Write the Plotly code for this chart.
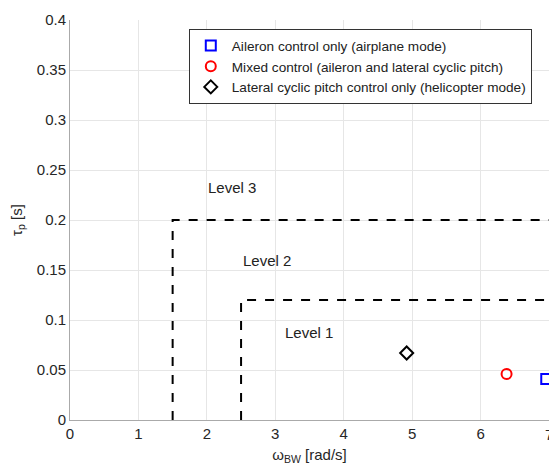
import plotly.graph_objects as go

# Data
series_names = ["Aileron control only (airplane mode)",
                "Mixed control (aileron and lateral cyclic pitch)",
                "Lateral cyclic pitch control only (helicopter mode)"]
omega_bw = [6.96, 6.38, 4.92]
tau_p = [0.041, 0.046, 0.067]
colors = ["#0000FF", "#FF0000", "#000000"]
symbols = ["square-open", "circle-open", "diamond-open"]

level3_x = [1.5, 1.5, 7.0]
level3_y = [0.0, 0.2, 0.2]
level2_x = [2.5, 2.5, 7.0]
level2_y = [0.0, 0.12, 0.12]

level_labels = ["Level 3", "Level 2", "Level 1"]
level_label_x = [2.365, 2.876, 3.49]
level_label_y = [0.233, 0.160, 0.0877]

x_ticks = [0, 1, 2, 3, 4, 5, 6, 7]
y_ticks = [0, 0.05, 0.1, 0.15, 0.2, 0.25, 0.3, 0.35, 0.4]
y_tick_text = ["0", "0.05", "0.1", "0.15", "0.2", "0.25", "0.3", "0.35", "0.4"]

fig = go.Figure()
fig.add_trace(go.Scatter(x=level3_x, y=level3_y, mode="lines",
                         line=dict(color="black", dash="dash", width=2), showlegend=False))
fig.add_trace(go.Scatter(x=level2_x, y=level2_y, mode="lines",
                         line=dict(color="black", dash="dash", width=2), showlegend=False))
for i in range(3):
    fig.add_trace(go.Scatter(x=[omega_bw[i]], y=[tau_p[i]], mode="markers", name=series_names[i],
                             marker=dict(symbol=symbols[i], size=10, color=colors[i],
                                         line=dict(width=2, color=colors[i]))))
for t, x, y in zip(level_labels, level_label_x, level_label_y):
    fig.add_annotation(x=x, y=y, text=t, showarrow=False,
                       font=dict(size=15, color="#222222"))

# last x tick label, cut by the page edge as in the reference
fig.add_annotation(x=x_ticks[-1], y=0, xref="x", yref="paper", yanchor="top", yshift=-4,
                   text=str(x_ticks[-1]), showarrow=False, font=dict(size=15, color="#262626"))

fig.update_layout(
    width=549, height=470,
    margin=dict(l=70, r=0, t=20, b=50),
    paper_bgcolor="white", plot_bgcolor="white",
    font=dict(family="Liberation Sans, Arial", size=15, color="#262626"),
    legend=dict(x=0.248, y=0.977, xanchor="left", yanchor="top",
                bordercolor="#333333", borderwidth=1, bgcolor="white",
                font=dict(size=13.6, color="#222222"), tracegroupgap=0, itemwidth=32),
    xaxis=dict(range=[0, 7], tickvals=x_ticks, showgrid=True, gridcolor="#E6E6E6",
               showline=True, linecolor="#AAAAAA", ticks="", zeroline=False,
               title=dict(text="ω<sub>BW</sub> [rad/s]", standoff=8, font=dict(size=15))),
    yaxis=dict(range=[0, 0.4], tickvals=y_ticks, ticktext=y_tick_text,
               showgrid=True, gridcolor="#E6E6E6",
               showline=True, linecolor="#AAAAAA", ticks="", zeroline=False,
               title=dict(text="τ<sub>p</sub> [s]", standoff=10, font=dict(size=15))),
)
fig.write_html("out.html")
